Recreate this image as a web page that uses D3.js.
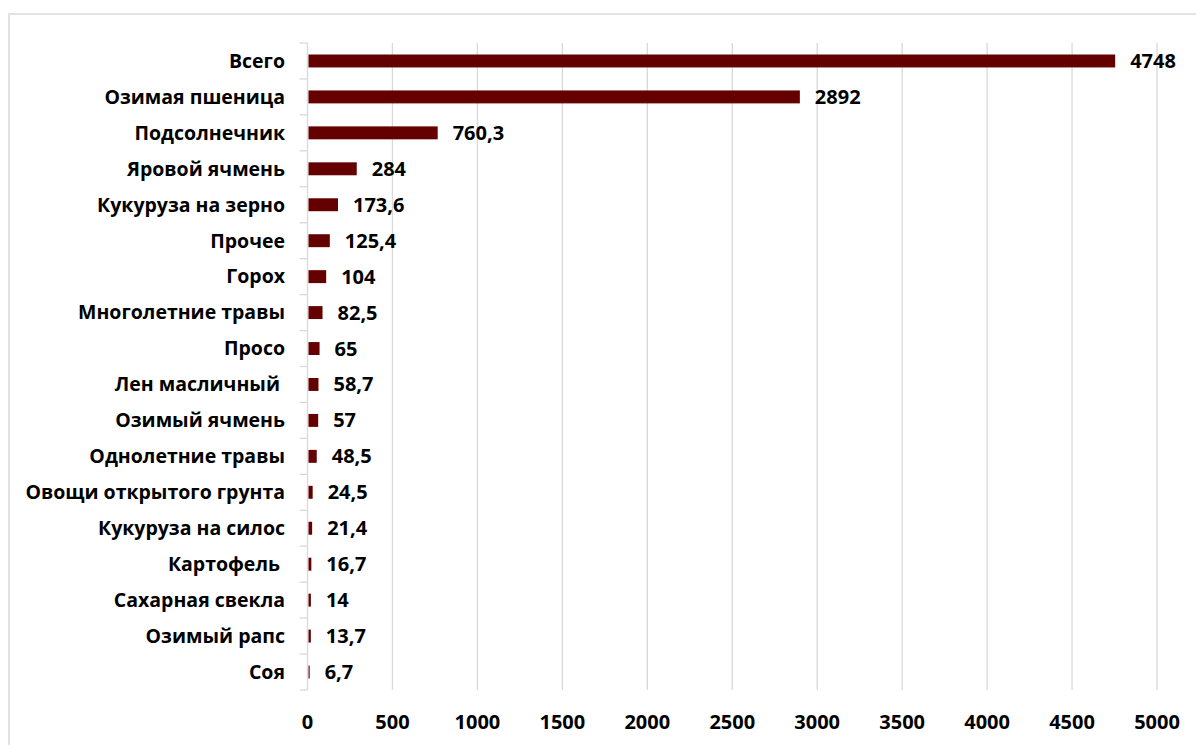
<!DOCTYPE html>
<html><head><meta charset="utf-8">
<script src="https://cdn.jsdelivr.net/npm/d3@7"></script>
<style>
html,body{margin:0;padding:0;background:#fff;}
svg{display:block;}
text{font-family:"Open Sans","Noto Sans",sans-serif;font-weight:bold;fill:#000;}
</style></head>
<body>
<script>
const categories = ["Всего","Озимая пшеница","Подсолнечник","Яровой ячмень","Кукуруза на зерно","Прочее","Горох","Многолетние травы","Просо","Лен масличный ","Озимый ячмень","Однолетние травы","Овощи открытого грунта","Кукуруза на силос","Картофель ","Сахарная свекла","Озимый рапс","Соя"];
const values = [4748,2892,760.3,284,173.6,125.4,104,82.5,65,58.7,57,48.5,24.5,21.4,16.7,14,13.7,6.7];
const xTicks = [0,500,1000,1500,2000,2500,3000,3500,4000,4500,5000];

const W = 1196, H = 745;
const svg = d3.select("body").append("svg").attr("width", W).attr("height", H);

// outer chart border
svg.append("rect").attr("x", 9).attr("y", 14).attr("width", 1200).attr("height", 760)
  .attr("fill", "none").attr("stroke", "#d9d9d9").attr("stroke-width", 1.5);

const x = d3.scaleLinear().domain([0, 5000]).range([307.5, 1157]);
const y = d3.scaleBand().domain(categories).range([43, 690]).paddingInner(0.64).paddingOuter(0.32);
const yb = d3.scaleBand().domain(categories).range([43, 690]);

// gridlines
svg.append("g").selectAll("line").data(xTicks.slice(1)).join("line")
  .attr("x1", d => x(d)).attr("x2", d => x(d)).attr("y1", 43).attr("y2", 690)
  .attr("stroke", "#d9d9d9").attr("stroke-width", 1.3);

// y axis line + ticks at band boundaries
const bounds = categories.map(c => yb(c)).concat([690]);
svg.append("line").attr("x1", x(0)).attr("x2", x(0)).attr("y1", 43).attr("y2", 690)
  .attr("stroke", "#d9d9d9").attr("stroke-width", 1.3);
svg.append("g").selectAll("line").data(bounds).join("line")
  .attr("x1", x(0) - 8).attr("x2", x(0)).attr("y1", d => d).attr("y2", d => d)
  .attr("stroke", "#d9d9d9").attr("stroke-width", 1.3);

// bars
svg.append("g").selectAll("rect").data(values).join("rect")
  .attr("x", x(0) + 1).attr("y", (d, i) => y(categories[i]))
  .attr("width", d => Math.max(0, x(d) - x(0)))
  .attr("height", y.bandwidth())
  .attr("fill", "#650000");

// value labels
const fmt = v => String(v).replace(".", ",");
svg.append("g").selectAll("text").data(values).join("text")
  .attr("x", d => x(d) + 16)
  .attr("y", (d, i) => yb(categories[i]) + yb.bandwidth() / 2)
  .attr("dy", "0.35em").attr("font-size", 20)
  .text(d => fmt(d));

// category labels
svg.append("g").selectAll("text").data(categories).join("text")
  .attr("x", 285).attr("y", d => yb(d) + yb.bandwidth() / 2)
  .attr("dy", "0.35em").attr("text-anchor", "end").attr("font-size", 19.5)
  .style("white-space", "pre")
  .text(d => d);

// x tick labels
svg.append("g").selectAll("text").data(xTicks).join("text")
  .attr("x", d => x(d)).attr("y", 722).attr("dy", "0.35em")
  .attr("text-anchor", "middle").attr("font-size", 20)
  .text(d => d);
</script>
</body></html>
